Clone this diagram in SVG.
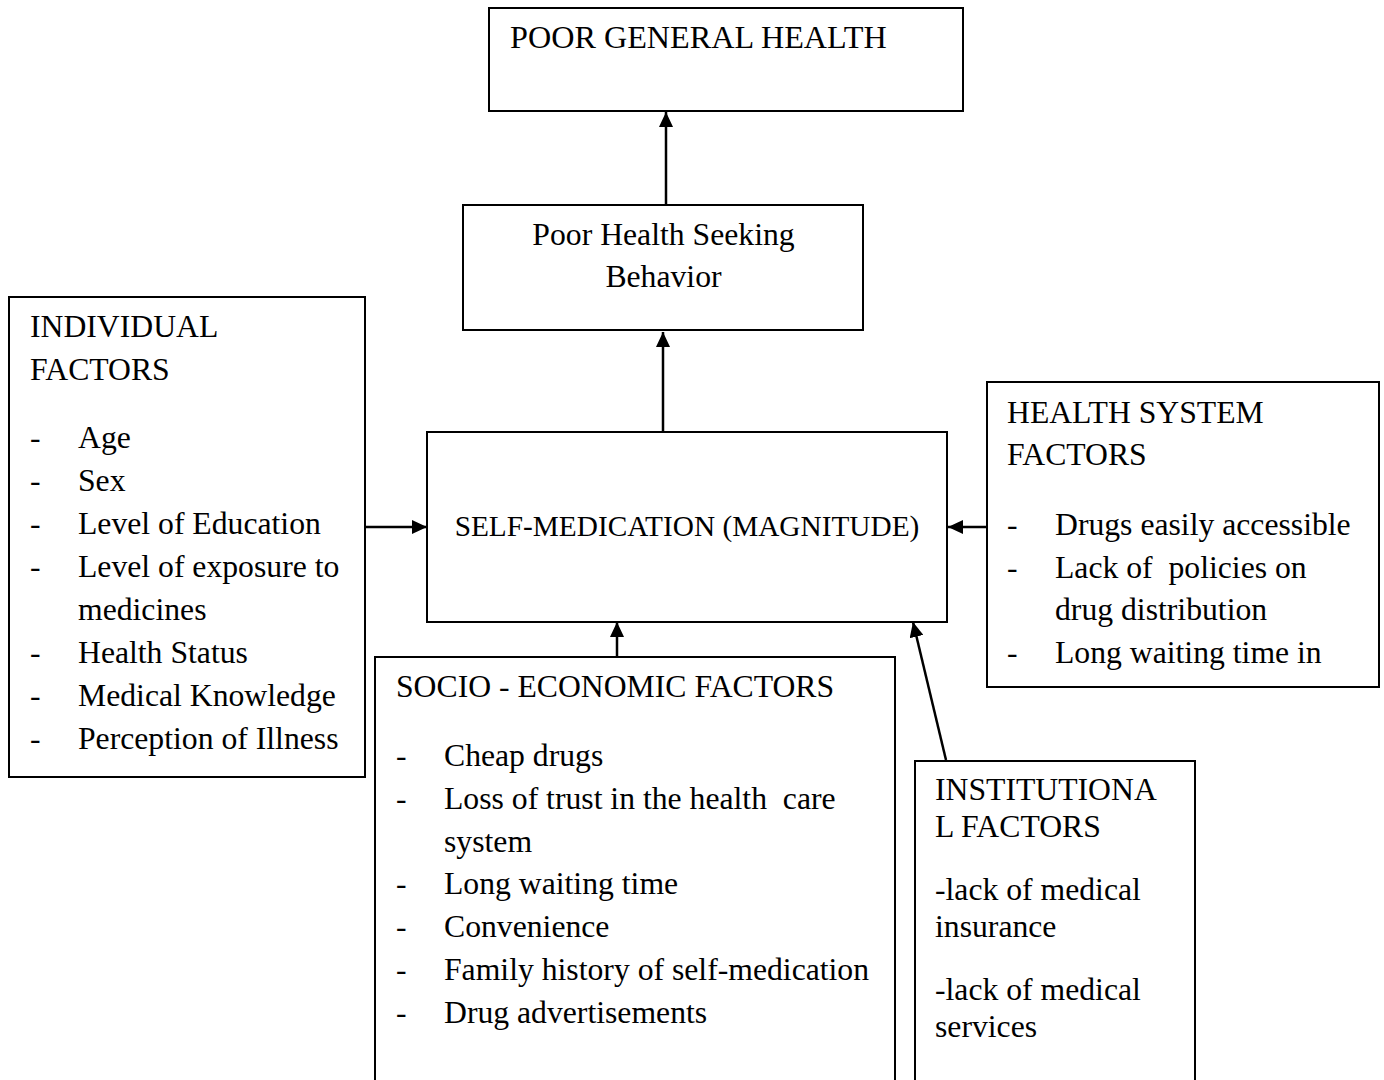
<svg xmlns="http://www.w3.org/2000/svg" width="1384" height="1080" viewBox="0 0 1384 1080">
<style>
.box{fill:#fff;stroke:#000;stroke-width:2}
text{font-family:"Liberation Serif","Times New Roman",serif;font-size:31.7px;fill:#000}
.c{text-anchor:middle}
.sm{font-size:29.3px}
.pre{white-space:pre}
.ln{stroke:#000;stroke-width:2.5;fill:none}
</style>
<defs>
<marker id="ah" markerUnits="userSpaceOnUse" markerWidth="16" markerHeight="14" refX="15" refY="7" orient="auto">
<path d="M0,0 L15,7 L0,14 z" fill="#000"/>
</marker>
</defs>
<rect width="1384" height="1080" fill="#fff"/>
<g id="connectors">
<line class="ln" x1="666" y1="205" x2="666" y2="112" marker-end="url(#ah)"/>
<line class="ln" x1="663" y1="432" x2="663" y2="332" marker-end="url(#ah)"/>
<line class="ln" x1="365" y1="527" x2="427" y2="527" marker-end="url(#ah)"/>
<line class="ln" x1="987" y1="527" x2="948" y2="527" marker-end="url(#ah)"/>
<line class="ln" x1="617" y1="657" x2="617" y2="622" marker-end="url(#ah)"/>
<line class="ln" x1="946" y1="760" x2="913" y2="622" marker-end="url(#ah)"/>
</g>
<g id="poor-general-health">
<rect class="box" x="489" y="8" width="474" height="103"/>
<text x="510" y="48" style="font-size:32.2px">POOR GENERAL HEALTH</text>
</g>
<g id="poor-health-seeking">
<rect class="box" x="463" y="205" width="400" height="125"/>
<text class="c" x="663.5" y="245">Poor Health Seeking</text>
<text class="c" x="663.5" y="287">Behavior</text>
</g>
<g id="self-medication">
<rect class="box" x="427" y="432" width="520" height="190"/>
<text class="c sm" x="687" y="536">SELF-MEDICATION (MAGNITUDE)</text>
</g>
<g id="individual-factors">
<rect class="box" x="9" y="297" width="356" height="480"/>
<text x="30" y="337">INDIVIDUAL</text>
<text x="30" y="380">FACTORS</text>
<text x="30" y="448">-</text><text x="78" y="448">Age</text>
<text x="30" y="491">-</text><text x="78" y="491">Sex</text>
<text x="30" y="534">-</text><text x="78" y="534">Level of Education</text>
<text x="30" y="577">-</text><text x="78" y="577">Level of exposure to</text>
<text x="78" y="620">medicines</text>
<text x="30" y="663">-</text><text x="78" y="663">Health Status</text>
<text x="30" y="706">-</text><text x="78" y="706">Medical Knowledge</text>
<text x="30" y="749">-</text><text x="78" y="749">Perception of Illness</text>
</g>
<g id="health-system-factors">
<rect class="box" x="987" y="382" width="392" height="305"/>
<text x="1007" y="423">HEALTH SYSTEM</text>
<text x="1007" y="465">FACTORS</text>
<text x="1007" y="535">-</text><text x="1055" y="535">Drugs easily accessible</text>
<text x="1007" y="578">-</text><text class="pre" x="1055" y="578" xml:space="preserve">Lack of  policies on</text>
<text x="1055" y="620">drug distribution</text>
<text x="1007" y="663">-</text><text x="1055" y="663">Long waiting time in</text>
</g>
<g id="socio-economic-factors">
<rect class="box" x="375" y="657" width="520" height="440"/>
<text x="396" y="697">SOCIO - ECONOMIC FACTORS</text>
<text x="396" y="766">-</text><text x="444" y="766">Cheap drugs</text>
<text x="396" y="809">-</text><text class="pre" x="444" y="809" xml:space="preserve">Loss of trust in the health  care</text>
<text x="444" y="852">system</text>
<text x="396" y="894">-</text><text x="444" y="894">Long waiting time</text>
<text x="396" y="937">-</text><text x="444" y="937">Convenience</text>
<text x="396" y="980">-</text><text x="444" y="980">Family history of self-medication</text>
<text x="396" y="1023">-</text><text x="444" y="1023">Drug advertisements</text>
</g>
<g id="institutional-factors">
<rect class="box" x="915" y="761" width="280" height="336"/>
<text x="935" y="800">INSTITUTIONA</text>
<text x="935" y="837">L FACTORS</text>
<text x="935" y="900">-lack of medical</text>
<text x="935" y="937">insurance</text>
<text x="935" y="1000">-lack of medical</text>
<text x="935" y="1037">services</text>
</g>
</svg>
